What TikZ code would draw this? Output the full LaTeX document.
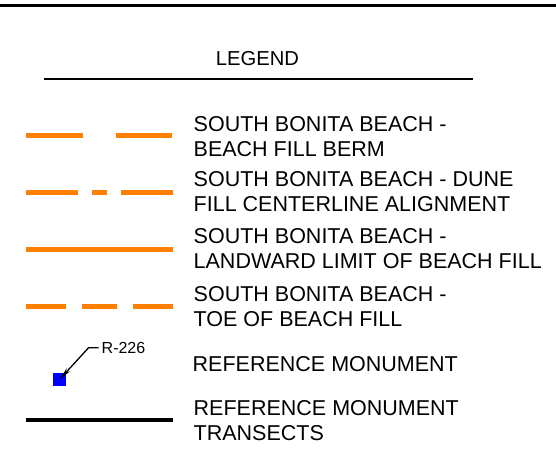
\documentclass[tikz,border=0pt]{standalone}
\usepackage{fontspec}
\setmainfont{Liberation Sans}
\usepackage{tikz}
\usetikzlibrary{arrows.meta,positioning}
\definecolor{fillorange}{RGB}{255,128,0}
\definecolor{monblue}{RGB}{0,0,255}
\tikzstyle{entry} = [anchor=north west, inner sep=0pt, align=left, font=\fontsize{21.5}{25}\selectfont]
\tikzstyle{sample} = [draw=fillorange, line width=5pt]
\tikzstyle{monument} = [rectangle, fill=monblue, minimum size=13pt, inner sep=0pt]
\tikzstyle{leader} = [line width=1.3pt, -{Stealth[length=13pt,width=4.5pt]}]

\begin{document}
\begin{tikzpicture}[x=1pt, y=-1pt]
    \useasboundingbox (0,0) rectangle (556,465);

    % header
    \draw[line width=3.2pt] (0,5.8) -- (556,5.8);
    \node[anchor=base, inner sep=0pt, font=\fontsize{20.2}{24}\selectfont] (title) at (257.5,66) {LEGEND};
    \draw[line width=2.3pt] (44.3,78.8) -- (472.7,78.8);

    % entries
    \node[entry] (berm) at (193.5,116.7) {SOUTH BONITA BEACH -\\BEACH FILL BERM};
    \node[entry] (dune) at (193.5,171.7) {SOUTH BONITA BEACH - DUNE\\FILL CENTERLINE ALIGNMENT};
    \node[entry] (landward) at (193.5,228.3) {SOUTH BONITA BEACH -\\LANDWARD LIMIT OF BEACH FILL};
    \node[entry] (toe) at (193.5,286) {SOUTH BONITA BEACH -\\TOE OF BEACH FILL};
    \node[entry] (monument) at (192.5,356.7) {REFERENCE MONUMENT};
    \node[entry] (transect) at (193.5,400) {REFERENCE MONUMENT\\TRANSECTS};

    % line samples
    \draw[sample, dash pattern=on 56.7pt off 33pt] (26,135.8) -- (173.3,135.8);
    \draw[sample, dash pattern=on 52.3pt off 13.4pt on 15.6pt off 13.4pt] (26,192.6) -- (173.3,192.6);
    \draw[sample] (26,249.5) -- (173.3,249.5);
    \draw[sample, dash pattern=on 40pt off 16.3pt on 34.4pt off 16pt on 60pt] (26,306.2) -- (173.3,306.2);

    % monument symbol
    \node[monument] (mon) at (59.7,379.3) {};
    \node[anchor=base west, inner xsep=3pt, inner ysep=0pt, font=\fontsize{16}{19}\selectfont] (rlabel) at (98.5,353.3) {R-226};
    \draw[leader] (rlabel.west) -- ++(-10,0) -- (mon.center);

    % transect sample
    \draw[line width=4pt] (26,419.7) -- (173.3,419.7);
\end{tikzpicture}
\end{document}
